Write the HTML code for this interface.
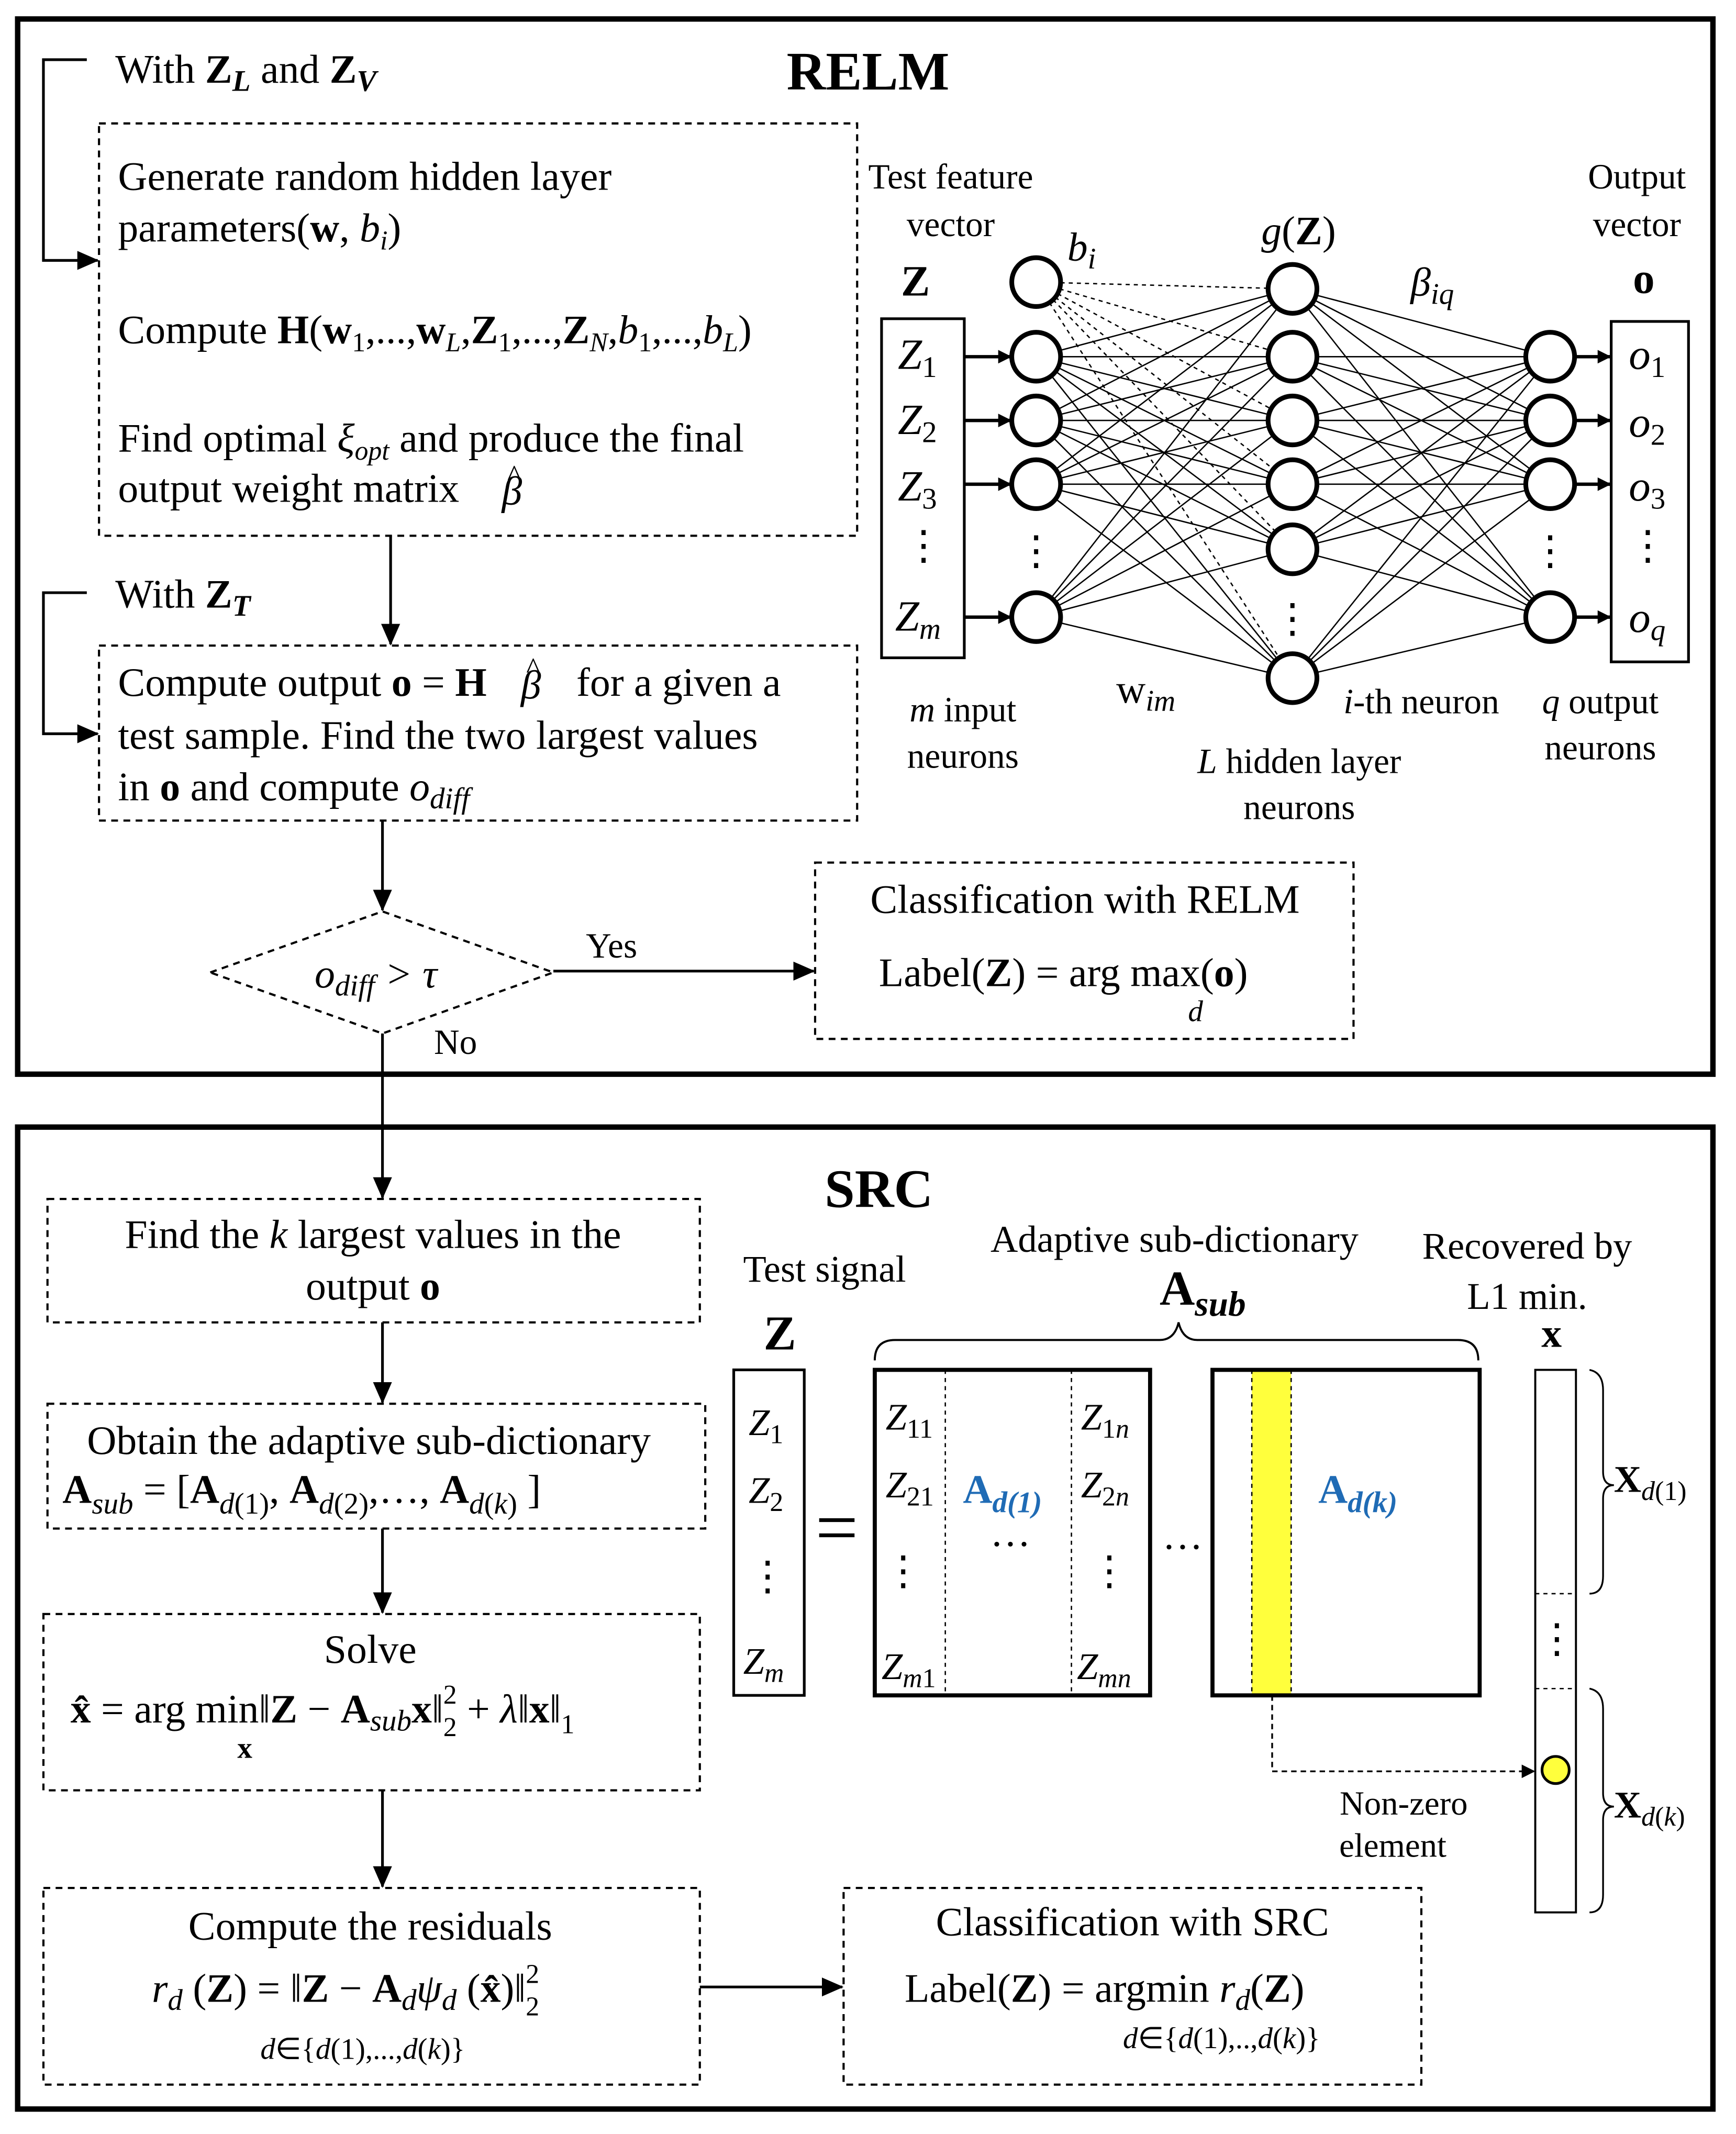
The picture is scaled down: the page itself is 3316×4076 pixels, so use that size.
<!DOCTYPE html>
<html><head><meta charset="utf-8"><style>
html,body{margin:0;padding:0;background:#fff}
svg{display:block}
text{font-family:"Liberation Serif",serif;fill:#000}
</style></head><body>
<svg width="3316" height="4076" viewBox="0 0 1280 1573.4" xmlns="http://www.w3.org/2000/svg">
<defs>
<marker id="ar" markerWidth="10" markerHeight="10" refX="9" refY="5" orient="auto" markerUnits="userSpaceOnUse"><path d="M0,0 L10,5 L0,10 z" fill="#000"/></marker>
<marker id="ar2" markerWidth="16" markerHeight="14" refX="15" refY="7" orient="auto" markerUnits="userSpaceOnUse"><path d="M0,0 L16,7 L0,14 z" fill="#000"/></marker>
</defs>
<rect width="1280" height="1574" fill="#fff"/>
<rect x="13" y="14" width="1250" height="778" fill="none" stroke="#000" stroke-width="4"/>
<rect x="13" y="831" width="1250" height="724" fill="none" stroke="#000" stroke-width="4"/>
<text x="640" y="66" font-size="40" font-weight="bold" text-anchor="middle">RELM</text>
<text x="648" y="890" font-size="40" font-weight="bold" text-anchor="middle">SRC</text>

<g fill="none" stroke="#000" stroke-width="1.6" stroke-dasharray="5,4">
<rect x="73" y="91" width="559" height="304"/>
<rect x="73" y="476" width="559" height="129"/>
<polygon points="155,717 282,672 408,717 282,762"/>
<rect x="601" y="636" width="397" height="130"/>
<rect x="35" y="884" width="481" height="91"/>
<rect x="35" y="1035" width="485" height="92"/>
<rect x="32" y="1190" width="484" height="130"/>
<rect x="32" y="1392" width="484" height="145"/>
<rect x="622" y="1392" width="426" height="145"/>
</g>
<g fill="none" stroke="#000" stroke-width="2">
<polyline points="64,44 32,44 32,192 72,192" marker-end="url(#ar2)"/>
<polyline points="64,437 32,437 32,541 72,541" marker-end="url(#ar2)"/>
<line x1="288" y1="395" x2="288" y2="475" marker-end="url(#ar2)"/>
<line x1="282" y1="605" x2="282" y2="671" marker-end="url(#ar2)"/>
<line x1="408" y1="716" x2="600" y2="716" marker-end="url(#ar2)"/>
<line x1="282" y1="762" x2="282" y2="883" marker-end="url(#ar2)"/>
<line x1="282" y1="975" x2="282" y2="1034" marker-end="url(#ar2)"/>
<line x1="282" y1="1127" x2="282" y2="1189" marker-end="url(#ar2)"/>
<line x1="282" y1="1320" x2="282" y2="1391" marker-end="url(#ar2)"/>
<line x1="516" y1="1465" x2="621" y2="1465" marker-end="url(#ar2)"/>
</g>
<g font-size="30">
<text x="85" y="61">With <tspan font-weight="bold">Z</tspan><tspan font-weight="bold" font-style="italic" font-size="22" dy="6">L</tspan><tspan dy="-6"> and </tspan><tspan font-weight="bold">Z</tspan><tspan font-weight="bold" font-style="italic" font-size="22" dy="6">V</tspan></text>
<text x="87" y="140">Generate random hidden layer</text>
<text x="87" y="178">parameters(<tspan font-weight="bold">w</tspan>, <tspan font-style="italic">b</tspan><tspan font-style="italic" font-size="20" dy="6">i</tspan><tspan dy="-6">)</tspan></text>
<text x="87" y="253">Compute <tspan font-weight="bold">H</tspan>(<tspan font-weight="bold">w</tspan><tspan font-size="20" dy="6">1</tspan><tspan dy="-6">,...,</tspan><tspan font-weight="bold">w</tspan><tspan font-size="20" font-style="italic" dy="6">L</tspan><tspan dy="-6">,</tspan><tspan font-weight="bold">Z</tspan><tspan font-size="20" dy="6">1</tspan><tspan dy="-6">,...,</tspan><tspan font-weight="bold">Z</tspan><tspan font-size="20" font-style="italic" dy="6">N</tspan><tspan dy="-6">,</tspan><tspan font-style="italic">b</tspan><tspan font-size="20" dy="6">1</tspan><tspan dy="-6">,...,</tspan><tspan font-style="italic">b</tspan><tspan font-size="20" font-style="italic" dy="6">L</tspan><tspan dy="-6">)</tspan></text>
<text x="87" y="333">Find optimal  <tspan font-style="italic">ξ</tspan><tspan font-style="italic" font-size="20" dy="6">opt</tspan><tspan dy="-6">   and produce the final</tspan></text>
<text x="87" y="370">output weight matrix</text>
<text x="370" y="372" font-style="italic">β</text>
<text x="374" y="358" font-size="22">^</text>
<text x="85" y="448">With <tspan font-weight="bold">Z</tspan><tspan font-weight="bold" font-style="italic" font-size="22" dy="6">T</tspan></text>
<text x="87" y="513">Compute output  <tspan font-weight="bold">o</tspan> = <tspan font-weight="bold">H</tspan></text>
<text x="384" y="515" font-style="italic">β</text>
<text x="388" y="500" font-size="22">^</text>
<text x="425" y="513">for a given a</text>
<text x="87" y="552">test sample. Find the two largest values</text>
<text x="87" y="590">in <tspan font-weight="bold">o</tspan>  and compute <tspan font-style="italic">o</tspan><tspan font-style="italic" font-size="22" dy="6">diff</tspan></text>
<text x="232" y="728" font-style="italic">o<tspan font-size="22" dy="6">diff</tspan><tspan dy="-6"> &gt; τ</tspan></text>
<text x="432" y="706" font-size="26">Yes</text>
<text x="320" y="777" font-size="26">No</text>
<text x="800" y="673" text-anchor="middle">Classification with RELM</text>
<text x="648" y="727">Label(<tspan font-weight="bold">Z</tspan>) = arg max(<tspan font-weight="bold">o</tspan>)</text>
<text x="876" y="753" font-size="22" font-style="italic">d</text>

<text x="275" y="920" text-anchor="middle">Find the <tspan font-style="italic">k</tspan> largest values in the</text>
<text x="275" y="958" text-anchor="middle">output  <tspan font-weight="bold">o</tspan></text>
<text x="272" y="1072" text-anchor="middle">Obtain the adaptive sub-dictionary</text>
<text x="46" y="1108"><tspan font-weight="bold">A</tspan><tspan font-style="italic" font-size="22" dy="8">sub</tspan><tspan dy="-8"> = [</tspan><tspan font-weight="bold">A</tspan><tspan font-style="italic" font-size="22" dy="8">d</tspan><tspan font-size="22">(1)</tspan><tspan dy="-8">, </tspan><tspan font-weight="bold">A</tspan><tspan font-style="italic" font-size="22" dy="8">d</tspan><tspan font-size="22">(2)</tspan><tspan dy="-8">,…, </tspan><tspan font-weight="bold">A</tspan><tspan font-style="italic" font-size="22" dy="8">d</tspan><tspan font-size="22">(</tspan><tspan font-style="italic" font-size="22">k</tspan><tspan font-size="22">)</tspan><tspan dy="-8"> ]</tspan></text>
<text x="273" y="1226" text-anchor="middle">Solve</text>
<text x="52" y="1270"><tspan font-weight="bold">x̂</tspan> = arg min‖<tspan font-weight="bold">Z</tspan> − <tspan font-weight="bold">A</tspan><tspan font-style="italic" font-size="22" dy="6">sub</tspan><tspan font-weight="bold" dy="-6">x</tspan>‖<tspan font-size="20" dy="10">2</tspan><tspan font-size="20" dx="-10" dy="-24">2</tspan><tspan dy="14"> + </tspan><tspan font-style="italic">λ</tspan>‖<tspan font-weight="bold">x</tspan>‖<tspan font-size="20" dy="8">1</tspan></text>
<text x="175" y="1296" font-size="22" font-weight="bold">x</text>
<text x="273" y="1430" text-anchor="middle">Compute the residuals</text>
<text x="112" y="1476"><tspan font-style="italic">r</tspan><tspan font-style="italic" font-size="22" dy="6">d</tspan><tspan dy="-6"> (</tspan><tspan font-weight="bold">Z</tspan>) = ‖<tspan font-weight="bold">Z</tspan> − <tspan font-weight="bold">A</tspan><tspan font-style="italic" font-size="22" dy="6">d</tspan><tspan font-style="italic" dy="-6">ψ</tspan><tspan font-style="italic" font-size="22" dy="6">d</tspan><tspan dy="-6"> (</tspan><tspan font-weight="bold">x̂</tspan>)‖<tspan font-size="20" dy="10">2</tspan><tspan font-size="20" dx="-10" dy="-24">2</tspan></text>
<text x="192" y="1518" font-size="22" font-style="italic">d<tspan font-style="normal">∈{</tspan>d<tspan font-style="normal">(1),...,</tspan>d<tspan font-style="normal">(</tspan>k<tspan font-style="normal">)}</tspan></text>
<text x="835" y="1427" text-anchor="middle">Classification with SRC</text>
<text x="667" y="1476">Label(<tspan font-weight="bold">Z</tspan>) = argmin <tspan font-style="italic">r</tspan><tspan font-style="italic" font-size="22" dy="6">d</tspan><tspan dy="-6">(</tspan><tspan font-weight="bold">Z</tspan>)</text>
<text x="828" y="1510" font-size="22" font-style="italic">d<tspan font-style="normal">∈{</tspan>d<tspan font-style="normal">(1),..,</tspan>d<tspan font-style="normal">(</tspan>k<tspan font-style="normal">)}</tspan></text>
</g>

<g font-size="26">
<text x="701" y="139" text-anchor="middle">Test feature</text>
<text x="701" y="174" text-anchor="middle">vector</text>
<text x="675" y="218" text-anchor="middle" font-size="32" font-weight="bold">Z</text>
<text x="1207" y="139" text-anchor="middle">Output</text>
<text x="1207" y="174" text-anchor="middle">vector</text>
<text x="1212" y="216" text-anchor="middle" font-size="32" font-weight="bold">o</text>
<text x="787" y="192" font-style="italic" font-size="30">b<tspan font-size="22" dy="6">i</tspan></text>
<text x="930" y="180" font-size="30"><tspan font-style="italic">g</tspan>(<tspan font-weight="bold">Z</tspan>)</text>
<text x="1040" y="218" font-style="italic" font-size="30">β<tspan font-size="22" dy="6">iq</tspan></text>
<text x="710" y="532" text-anchor="middle"><tspan font-style="italic">m</tspan> input</text>
<text x="710" y="566" text-anchor="middle">neurons</text>
<text x="823" y="518" font-size="30">w<tspan font-style="italic" font-size="22" dy="6">im</tspan></text>
<text x="1048" y="526" text-anchor="middle"><tspan font-style="italic">i</tspan>-th neuron</text>
<text x="958" y="570" text-anchor="middle"><tspan font-style="italic">L</tspan> hidden layer</text>
<text x="958" y="604" text-anchor="middle">neurons</text>
<text x="1180" y="526" text-anchor="middle"><tspan font-style="italic">q</tspan> output</text>
<text x="1180" y="560" text-anchor="middle">neurons</text>
</g>
<rect x="650" y="235" width="61" height="250" fill="none" stroke="#000" stroke-width="2"/>
<rect x="1188" y="237" width="57" height="251" fill="none" stroke="#000" stroke-width="2"/>
<g font-size="32" font-style="italic">
<text x="662" y="272">Z<tspan font-size="22" font-style="normal" dy="6">1</tspan></text>
<text x="662" y="320">Z<tspan font-size="22" font-style="normal" dy="6">2</tspan></text>
<text x="662" y="369">Z<tspan font-size="22" font-style="normal" dy="6">3</tspan></text>
<text x="660" y="465">Z<tspan font-size="22" dy="6">m</tspan></text>
<text x="1201" y="272">o<tspan font-size="22" font-style="normal" dy="6">1</tspan></text>
<text x="1201" y="322">o<tspan font-size="22" font-style="normal" dy="6">2</tspan></text>
<text x="1201" y="369">o<tspan font-size="22" font-style="normal" dy="6">3</tspan></text>
<text x="1201" y="466">o<tspan font-size="22" dy="6">q</tspan></text>
</g>
<g font-size="30" text-anchor="middle">
<text x="681" y="412">⋮</text><text x="1215" y="412">⋮</text>
<text x="764" y="416">⋮</text><text x="1143" y="416">⋮</text><text x="953" y="466">⋮</text>
</g>
<g stroke="#000" stroke-width="1">
<line x1="764" y1="263" x2="953" y2="213"/><line x1="764" y1="263" x2="953" y2="263"/><line x1="764" y1="263" x2="953" y2="310"/><line x1="764" y1="263" x2="953" y2="357"/><line x1="764" y1="263" x2="953" y2="405"/><line x1="764" y1="263" x2="953" y2="500"/>
<line x1="764" y1="310" x2="953" y2="213"/><line x1="764" y1="310" x2="953" y2="263"/><line x1="764" y1="310" x2="953" y2="310"/><line x1="764" y1="310" x2="953" y2="357"/><line x1="764" y1="310" x2="953" y2="405"/><line x1="764" y1="310" x2="953" y2="500"/>
<line x1="764" y1="357" x2="953" y2="213"/><line x1="764" y1="357" x2="953" y2="263"/><line x1="764" y1="357" x2="953" y2="310"/><line x1="764" y1="357" x2="953" y2="357"/><line x1="764" y1="357" x2="953" y2="405"/><line x1="764" y1="357" x2="953" y2="500"/>
<line x1="764" y1="455" x2="953" y2="213"/><line x1="764" y1="455" x2="953" y2="263"/><line x1="764" y1="455" x2="953" y2="310"/><line x1="764" y1="455" x2="953" y2="357"/><line x1="764" y1="455" x2="953" y2="405"/><line x1="764" y1="455" x2="953" y2="500"/>
<line x1="953" y1="213" x2="1143" y2="263"/><line x1="953" y1="213" x2="1143" y2="310"/><line x1="953" y1="213" x2="1143" y2="357"/><line x1="953" y1="213" x2="1143" y2="455"/>
<line x1="953" y1="263" x2="1143" y2="263"/><line x1="953" y1="263" x2="1143" y2="310"/><line x1="953" y1="263" x2="1143" y2="357"/><line x1="953" y1="263" x2="1143" y2="455"/>
<line x1="953" y1="310" x2="1143" y2="263"/><line x1="953" y1="310" x2="1143" y2="310"/><line x1="953" y1="310" x2="1143" y2="357"/><line x1="953" y1="310" x2="1143" y2="455"/>
<line x1="953" y1="357" x2="1143" y2="263"/><line x1="953" y1="357" x2="1143" y2="310"/><line x1="953" y1="357" x2="1143" y2="357"/><line x1="953" y1="357" x2="1143" y2="455"/>
<line x1="953" y1="405" x2="1143" y2="263"/><line x1="953" y1="405" x2="1143" y2="310"/><line x1="953" y1="405" x2="1143" y2="357"/><line x1="953" y1="405" x2="1143" y2="455"/>
<line x1="953" y1="500" x2="1143" y2="263"/><line x1="953" y1="500" x2="1143" y2="310"/><line x1="953" y1="500" x2="1143" y2="357"/><line x1="953" y1="500" x2="1143" y2="455"/>
</g>
<g stroke="#000" stroke-width="1" stroke-dasharray="3,3">
<line x1="764" y1="208" x2="953" y2="213"/><line x1="764" y1="208" x2="953" y2="263"/><line x1="764" y1="208" x2="953" y2="310"/><line x1="764" y1="208" x2="953" y2="357"/><line x1="764" y1="208" x2="953" y2="405"/><line x1="764" y1="208" x2="953" y2="500"/>
</g>
<g stroke="#000" stroke-width="2.5">
<line x1="711" y1="263" x2="745" y2="263" marker-end="url(#ar)"/>
<line x1="711" y1="310" x2="745" y2="310" marker-end="url(#ar)"/>
<line x1="711" y1="357" x2="745" y2="357" marker-end="url(#ar)"/>
<line x1="711" y1="455" x2="745" y2="455" marker-end="url(#ar)"/>
<line x1="1161" y1="263" x2="1187" y2="263" marker-end="url(#ar)"/>
<line x1="1161" y1="310" x2="1187" y2="310" marker-end="url(#ar)"/>
<line x1="1161" y1="357" x2="1187" y2="357" marker-end="url(#ar)"/>
<line x1="1161" y1="455" x2="1187" y2="455" marker-end="url(#ar)"/>
</g>
<g fill="#fff" stroke="#000" stroke-width="3.5">
<circle cx="764" cy="208" r="18"/><circle cx="764" cy="263" r="18"/><circle cx="764" cy="310" r="18"/><circle cx="764" cy="357" r="18"/><circle cx="764" cy="455" r="18"/>
<circle cx="953" cy="213" r="18"/><circle cx="953" cy="263" r="18"/><circle cx="953" cy="310" r="18"/><circle cx="953" cy="357" r="18"/><circle cx="953" cy="405" r="18"/><circle cx="953" cy="500" r="18"/>
<circle cx="1143" cy="263" r="18"/><circle cx="1143" cy="310" r="18"/><circle cx="1143" cy="357" r="18"/><circle cx="1143" cy="455" r="18"/>
</g>

<g font-size="28">
<text x="608" y="945" text-anchor="middle">Test signal</text>
<text x="866" y="923" text-anchor="middle">Adaptive sub-dictionary</text>
<text x="1126" y="928" text-anchor="middle">Recovered by</text>
<text x="1126" y="965" text-anchor="middle">L1 min.</text>
<text x="1035" y="1338" text-anchor="middle" font-size="25">Non-zero</text>
<text x="1027" y="1369" text-anchor="middle" font-size="25">element</text>
</g>
<text x="575" y="995" text-anchor="middle" font-size="36" font-weight="bold">Z</text>
<text x="855" y="962" font-size="36" font-weight="bold">A<tspan font-style="italic" font-size="26" dy="8">sub</tspan></text>
<text x="1144" y="993" text-anchor="middle" font-size="30" font-weight="bold">x</text>
<path d="M645,1003 Q645,988 660,988 L855,988 Q866,988 869,975 Q872,988 883,988 L1075,988 Q1090,988 1090,1003" fill="none" stroke="#000" stroke-width="1.5"/>
<rect x="541" y="1010" width="52" height="240" fill="none" stroke="#000" stroke-width="2"/>
<g font-size="28" font-style="italic">
<text x="552" y="1058">Z<tspan font-size="20" font-style="normal" dy="6">1</tspan></text>
<text x="552" y="1108">Z<tspan font-size="20" font-style="normal" dy="6">2</tspan></text>
<text x="548" y="1234">Z<tspan font-size="20" dy="6">m</tspan></text>
<text x="653" y="1054">Z<tspan font-size="20" font-style="normal" dy="6">11</tspan></text>
<text x="797" y="1054">Z<tspan font-size="20" font-style="normal" dy="6">1</tspan><tspan font-size="20">n</tspan></text>
<text x="653" y="1104">Z<tspan font-size="20" font-style="normal" dy="6">21</tspan></text>
<text x="797" y="1104">Z<tspan font-size="20" font-style="normal" dy="6">2</tspan><tspan font-size="20">n</tspan></text>
<text x="650" y="1238">Z<tspan font-size="20" dy="6">m</tspan><tspan font-size="20" font-style="normal">1</tspan></text>
<text x="794" y="1238">Z<tspan font-size="20" dy="6">mn</tspan></text>
</g>
<g font-size="30" text-anchor="middle">
<text x="566" y="1172">⋮</text><text x="666" y="1168">⋮</text><text x="818" y="1168">⋮</text><text x="1148" y="1218">⋮</text>
<text x="745" y="1140">…</text><text x="872" y="1142">…</text>
</g>
<text x="617" y="1145" text-anchor="middle" font-size="56">=</text>
<rect x="923" y="1010" width="29" height="240" fill="#ffff3c"/>
<rect x="645" y="1010" width="203" height="240" fill="none" stroke="#000" stroke-width="3"/>
<rect x="894" y="1010" width="197" height="240" fill="none" stroke="#000" stroke-width="3"/>
<g stroke="#000" stroke-width="1" stroke-dasharray="3,3">
<line x1="697" y1="1010" x2="697" y2="1250"/><line x1="790" y1="1010" x2="790" y2="1250"/>
<line x1="923" y1="1010" x2="923" y2="1250"/><line x1="952" y1="1010" x2="952" y2="1250"/>
<line x1="1132" y1="1175" x2="1162" y2="1175"/><line x1="1132" y1="1245" x2="1162" y2="1245"/>
</g>
<text x="710" y="1108" font-size="30" font-weight="bold" style="fill:#1f6bb5">A<tspan font-style="italic" font-size="22" dy="7">d(1)</tspan></text>
<text x="972" y="1108" font-size="30" font-weight="bold" style="fill:#1f6bb5">A<tspan font-style="italic" font-size="22" dy="7">d(k)</tspan></text>
<rect x="1132" y="1010" width="30" height="400" fill="none" stroke="#000" stroke-width="1.5"/>
<polyline points="938,1250 938,1306 1131,1306" fill="none" stroke="#000" stroke-width="1.3" stroke-dasharray="4,3" marker-end="url(#ar)"/>
<circle cx="1147" cy="1305" r="10" fill="#ffff3c" stroke="#000" stroke-width="2"/>
<path d="M1172,1010 Q1182,1012 1182,1025 L1182,1085 Q1182,1095 1190,1095 Q1182,1095 1182,1105 L1182,1162 Q1182,1175 1172,1175" fill="none" stroke="#000" stroke-width="1.3"/>
<path d="M1172,1245 Q1182,1247 1182,1260 L1182,1322 Q1182,1332 1190,1332 Q1182,1332 1182,1342 L1182,1397 Q1182,1410 1172,1410" fill="none" stroke="#000" stroke-width="1.3"/>
<text x="1190" y="1100" font-size="28" font-weight="bold">X<tspan font-size="20" font-weight="normal" dy="6"><tspan font-style="italic">d</tspan>(1)</tspan></text>
<text x="1190" y="1340" font-size="28" font-weight="bold">X<tspan font-size="20" font-weight="normal" dy="6"><tspan font-style="italic">d</tspan>(<tspan font-style="italic">k</tspan>)</tspan></text>
</svg>
</body></html>
